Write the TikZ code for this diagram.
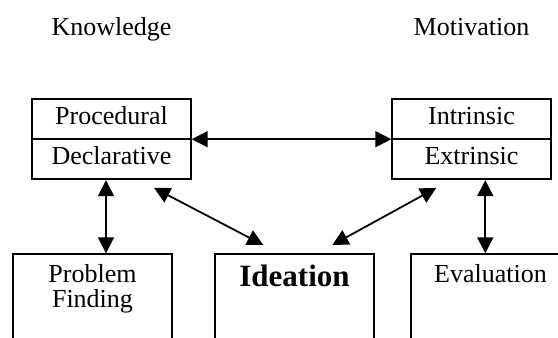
\documentclass[tikz,border=0pt]{standalone}
\usepackage{fontspec}
\setmainfont{Liberation Serif}
\usetikzlibrary{arrows.meta,positioning,shapes.multipart}
\tikzstyle{pair} = [
  draw,
  line width=1pt,
  rectangle split,
  rectangle split parts=2,
  minimum width=79.2pt,
  inner ysep=2.5pt,
  font=\fontsize{13}{14}\selectfont,
]
\tikzstyle{stage} = [
  draw,
  line width=1pt,
  rectangle,
  minimum width=79.2pt,
  minimum height=60pt,
  anchor=north,
]
\tikzstyle{heading} = [
  font=\fontsize{13}{14}\selectfont,
  inner sep=0pt,
  text depth=0pt,
]
\tikzstyle{caption} = [
  font=\fontsize{13}{12.5}\selectfont,
  align=center,
  inner sep=0pt,
  anchor=north,
]
\tikzstyle{link} = [
  >={Triangle[length=8pt,width=8pt]},
  <->,
  line width=0.9pt,
]

\begin{document}
\begin{tikzpicture}[
    x=0.5pt,
    y=-0.5pt,
  ]
  \useasboundingbox (0,0) rectangle (558,338);
  \clip (0,0) rectangle (558,338);
  \node[pair]
  (knowbox) at (111.5,139.2)
  {\strut Procedural\nodepart{two}\strut Declarative};
  \node[pair]
  (motivbox) at (471.5,139.2)
  {\strut Intrinsic\nodepart{two}\strut Extrinsic};
  \node[
    heading,
    above=31pt of knowbox
  ](knowledge){Knowledge};
  \node[
    heading,
    above=31pt of motivbox
  ](motivation){Motivation};
  \node[stage] (problem) at (92.5,253.3) {};
  \node[stage] (ideation) at (294.5,253.3) {};
  \node[stage] (evaluation) at (490.5,253.3) {};
  \node[
    caption,
    below=5.5pt of problem.north
  ](problemtxt){Problem\\Finding};
  \node[
    caption,
    font=\fontsize{15.5}{17}\selectfont\bfseries,
    below=5.4pt of ideation.north
  ](ideationtxt){Ideation};
  \node[
    caption,
    below=5.5pt of evaluation.north
  ](evaluationtxt){Evaluation};
  \draw [link] (knowbox.east) -- (motivbox.west);
  \draw [link] ([xshift=-2.75pt]knowbox.south)
    -- ([xshift=-2.75pt]knowbox.south |- problem.north);
  \draw [link] ([xshift=6.9pt]motivbox.south)
    -- ([xshift=6.9pt]motivbox.south |- evaluation.north);
  \draw [link] ([shift={(21.25pt,-3.85pt)}]knowbox.south)
    -- ([shift={(-15.6pt,4.15pt)}]ideation.north);
  \draw [link] ([shift={(-17.6pt,-3.85pt)}]motivbox.south)
    -- ([shift={(18.9pt,4.15pt)}]ideation.north);
\end{tikzpicture}
\end{document}
